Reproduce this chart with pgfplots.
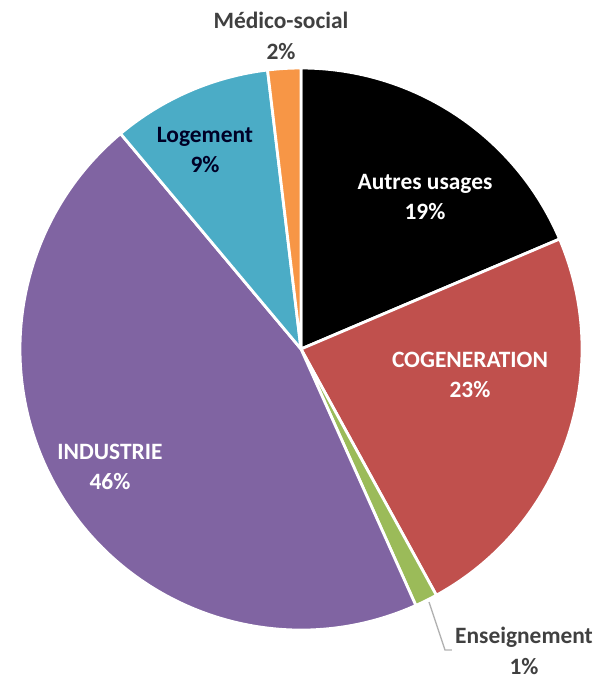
\documentclass[border=0pt]{standalone}
\usepackage{pgfplots}
\pgfplotsset{compat=1.18}
\usepackage{fontspec}
\setmainfont{Carlito}
\definecolor{cRed}{HTML}{C0504D}
\definecolor{cGreen}{HTML}{9BBB59}
\definecolor{cPurple}{HTML}{8064A2}
\definecolor{cBlue}{HTML}{4BACC6}
\definecolor{cOrange}{HTML}{F79646}
\definecolor{cText}{HTML}{404040}
\newcommand\R{4.215cm}
% #1 = cumulative start (%), #2 = share (%), #3 = colour
\newcommand\slice[3]{%
  \fill[#3, draw=white, line width=1.2pt] (axis cs:301,328) -- ++({90-3.6*#1}:\R)
    arc[start angle={90-3.6*#1}, end angle={90-3.6*(#1+#2)}, radius=\R] -- cycle;}
\begin{document}
\begin{tikzpicture}
\begin{axis}[
  width=9.015cm, height=10.155cm, scale only axis,
  xmin=0, xmax=601, ymin=0, ymax=677,
  hide axis, clip=false,
  nodes={font=\fontsize{10pt}{13pt}\selectfont\bfseries, align=center},
]
\slice{0}{18.6}{black}
\slice{18.6}{23.4}{cRed}
\slice{42.0}{1.3}{cGreen}
\slice{43.3}{45.6}{cPurple}
\slice{88.9}{9.2}{cBlue}
\slice{98.1}{1.9}{cOrange}
\draw[gray!60, line width=0.6pt] (axis cs:429,75) -- (axis cs:445,27) -- (axis cs:452,27);
\node[text=cText] at (axis cs:281,641) {Médico-social\\2\%};
\node[text=black!85!blue] at (axis cs:205,527) {Logement\\9\%};
\node[text=white] at (axis cs:425,480) {Autres usages\\19\%};
\node[text=white] at (axis cs:470,302) {COGENERATION\\23\%};
\node[text=white] at (axis cs:110,210) {INDUSTRIE\\46\%};
\node[text=cText] at (axis cs:524,26) {Enseignement\\1\%};
\end{axis}
\pgfresetboundingbox
\useasboundingbox (current axis.south west) rectangle (current axis.north east);
\end{tikzpicture}
\end{document}
